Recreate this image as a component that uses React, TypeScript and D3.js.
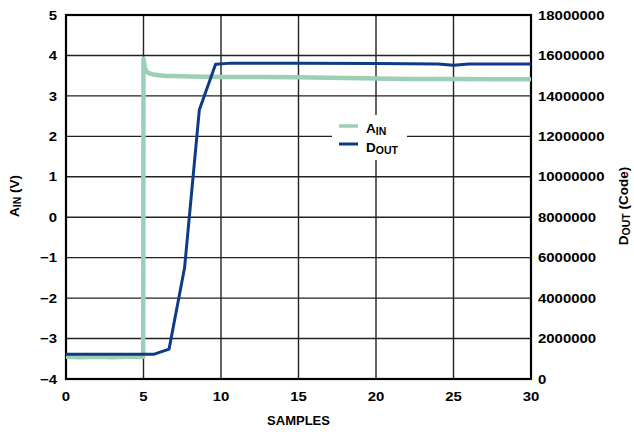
import React from "react";
import * as d3 from "d3";

const xTicks = [0, 5, 10, 15, 20, 25, 30];
const yLeftTicks = [-4, -3, -2, -1, 0, 1, 2, 3, 4, 5];
const yRightTicks = [0, 2000000, 4000000, 6000000, 8000000, 10000000, 12000000, 14000000, 16000000, 18000000];

// A_IN (V) vs samples
const ainSamples = [0, 1, 2, 3, 4, 4.98, 5.0, 5.08, 5.2, 5.35, 5.6, 6.0, 6.5, 7, 8, 10, 12, 15, 18, 20, 22, 25, 28, 30];
const ainValues = [-3.45, -3.46, -3.45, -3.46, -3.45, -3.45, 3.92, 3.7, 3.6, 3.56, 3.53, 3.51, 3.49, 3.49, 3.48, 3.47, 3.47, 3.46, 3.44, 3.43, 3.42, 3.42, 3.41, 3.41];

// D_OUT (code) vs samples
const doutSamples = [0, 5.65, 6.65, 7.65, 8.6, 9.65, 10.65, 15, 20, 24, 25, 26, 30];
const doutValues = [1220000, 1220000, 1480000, 5500000, 13300000, 15560000, 15620000, 15620000, 15600000, 15580000, 15520000, 15580000, 15580000];

const W = 634, H = 432;
const L = 66, R = 531, T = 15, B = 379;
const FONT = "'Liberation Sans', Arial, Helvetica, sans-serif";
const GREEN = "#9ccfb4";
const BLUE = "#0e3a88";

export default function App() {
  const x = d3.scaleLinear().domain([0, 30]).range([L, R]);
  const yL = d3.scaleLinear().domain([-4, 5]).range([B, T]);
  const yR = d3.scaleLinear().domain([0, 18000000]).range([B, T]);

  const ainData = ainSamples.map((s, i) => [s, ainValues[i]] as [number, number]);
  const doutData = doutSamples.map((s, i) => [s, doutValues[i]] as [number, number]);

  const ainLine = d3.line<[number, number]>().x(d => x(d[0])).y(d => yL(d[1]));
  const doutLine = d3.line<[number, number]>().x(d => x(d[0])).y(d => yR(d[1]));

  const sx = 1.15;
  const tickFs = 13;

  return (
    <svg width={W} height={H} style={{ position: "absolute", left: 0, top: 0, background: "#fff" }} fontFamily={FONT} fontWeight="bold">
      <rect x={0} y={0} width={W} height={H} fill="#fff" />
      {/* grid */}
      {xTicks.slice(1, -1).map(t => (
        <line key={"gx" + t} x1={x(t)} x2={x(t)} y1={T} y2={B} stroke="#222" strokeWidth={1.4} />
      ))}
      {yLeftTicks.slice(1, -1).map(t => (
        <line key={"gy" + t} x1={L} x2={R} y1={yL(t)} y2={yL(t)} stroke="#222" strokeWidth={1.4} />
      ))}
      {/* legend box */}
      <rect x={332} y={115} width={75} height={45} fill="#fff" />
      {/* frame */}
      <rect x={L} y={T} width={R - L} height={B - T} fill="none" stroke="#000" strokeWidth={2.2} />

      {/* data */}
      <path d={ainLine(ainData) || ""} fill="none" stroke={GREEN} strokeWidth={4.5} strokeLinejoin="round" />
      <path d={doutLine(doutData) || ""} fill="none" stroke={BLUE} strokeWidth={3} strokeLinejoin="round" />

      {/* legend */}
      <line x1={339} x2={358} y1={126} y2={126} stroke={GREEN} strokeWidth={3.5} />
      <line x1={339} x2={358} y1={144} y2={144} stroke={BLUE} strokeWidth={3} />
      <text x={366} y={132.5} fontSize={13.5}>
        A<tspan fontSize={10.5} dy={2}>IN</tspan>
      </text>
      <text x={366} y={151.5} fontSize={13.5}>
        D<tspan fontSize={10.5} dy={2}>OUT</tspan>
      </text>

      {/* left tick labels */}
      {yLeftTicks.map(t => (
        <text key={"yl" + t} transform={`translate(57,${yL(t) + 4.7}) scale(${sx},1)`} textAnchor="end" fontSize={tickFs}>
          {t < 0 ? "\u2212" + Math.abs(t) : String(t)}
        </text>
      ))}
      {/* right tick labels */}
      {yRightTicks.map(t => (
        <text key={"yr" + t} transform={`translate(538,${yR(t) + 4.7}) scale(${sx},1)`} textAnchor="start" fontSize={tickFs}>
          {String(t)}
        </text>
      ))}
      {/* x tick labels */}
      {xTicks.map(t => (
        <text key={"xt" + t} transform={`translate(${x(t)},401) scale(${sx},1)`} textAnchor="middle" fontSize={tickFs}>
          {String(t)}
        </text>
      ))}

      {/* axis titles */}
      <text x={(L + R) / 2} y={425} textAnchor="middle" fontSize={13}>SAMPLES</text>
      <text transform={`translate(19,196) rotate(-90)`} textAnchor="middle" fontSize={13.5}>
        A<tspan fontSize={10.5} dy={2}>IN</tspan><tspan dy={-2}> (V)</tspan>
      </text>
      <text transform={`translate(628,206) rotate(-90)`} textAnchor="middle" fontSize={13.5}>
        D<tspan fontSize={10.5} dy={2}>OUT</tspan><tspan dy={-2}> (Code)</tspan>
      </text>
    </svg>
  );
}
